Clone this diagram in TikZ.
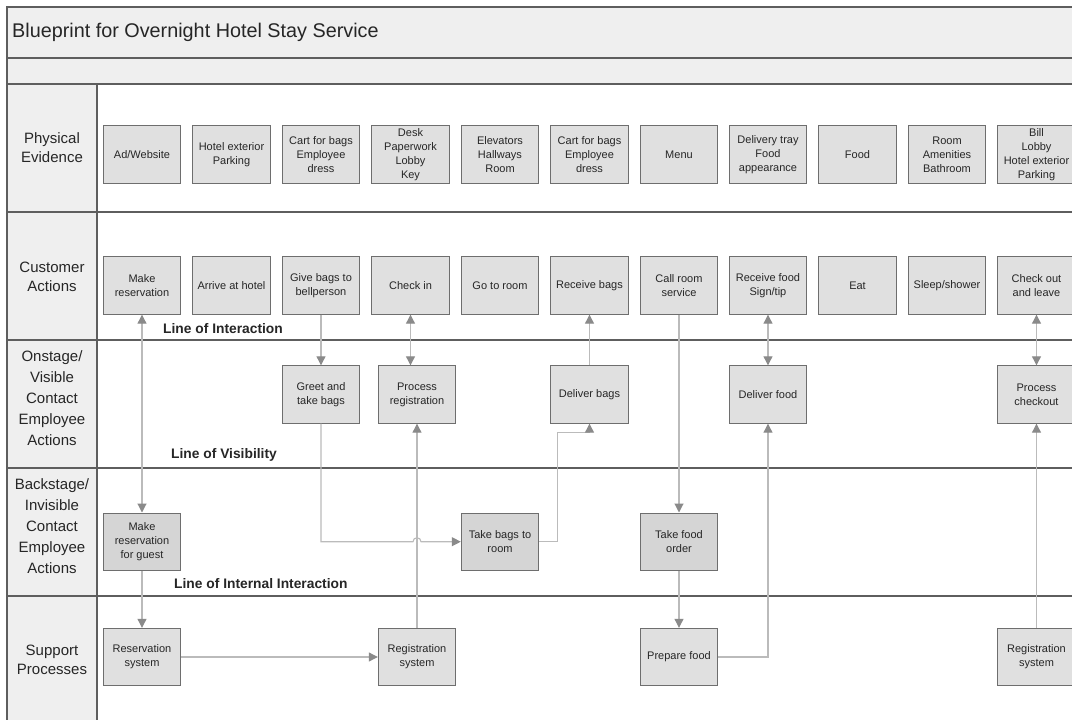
\documentclass[tikz,border=0pt]{standalone}
\usepackage{fontspec}
\setmainfont{Liberation Sans}
\usetikzlibrary{arrows.meta}
\definecolor{framegray}{HTML}{5E5E5E}
\definecolor{bandgray}{HTML}{EFEFEF}
\definecolor{boxfill}{HTML}{E0E0E0}
\definecolor{boxdark}{HTML}{D5D5D5}
\definecolor{boxedge}{HTML}{6E6E6E}
\definecolor{flowgray}{HTML}{BBBBBB}
\definecolor{tipgray}{HTML}{8A8A8A}
\definecolor{inkgray}{HTML}{262626}
\begin{document}
\begin{tikzpicture}[x=1pt,y=-1pt,
  stepbox/.style={draw=boxedge, fill=boxfill, line width=0.9pt, minimum width=77.5pt,
    minimum height=57.5pt, inner sep=1pt, align=center,
    font=\fontsize{11}{14}\selectfont, text=inkgray},
  backbox/.style={stepbox, fill=boxdark},
  lanelabel/.style={align=center, inner sep=0pt, font=\fontsize{15}{19}\selectfont, text=inkgray},
  lanelabelfive/.style={lanelabel, font=\fontsize{15}{21}\selectfont},
  linelabel/.style={anchor=west, inner sep=0pt, font=\bfseries\fontsize{13.8}{16}\selectfont, text=inkgray},
  flow/.style={draw=flowgray, line width=1.1pt, -{Triangle[length=9pt,width=9pt,color=tipgray]}},
  flowboth/.style={draw=flowgray, line width=1.1pt,
    {Triangle[length=9pt,width=9pt,color=tipgray]}-{Triangle[length=9pt,width=9pt,color=tipgray]}},
  frame/.style={draw=framegray, line width=1.2pt}]

\useasboundingbox (0,0) rectangle (1072,720);
\begin{scope}
\clip (0,0) rectangle (1072,720);

% bands and header column
\fill[white] (0,0) rectangle (1072,720);
\fill[bandgray] (7,7) rectangle (1090,84);
\fill[bandgray] (7,84) rectangle (97,740);

% frame and lane separators
\draw[frame] (1090,7) -- (7,7) -- (7,740);
\draw[frame] (7,58) -- (1090,58);
\draw[frame] (7,84) -- (1090,84);
\draw[frame] (7,212) -- (1090,212);
\draw[frame] (7,340) -- (1090,340);
\draw[frame] (7,468) -- (1090,468);
\draw[frame] (7,596) -- (1090,596);
\draw[frame] (97,84) -- (97,740);

% title and lane names
\node[anchor=west, inner sep=0pt, font=\fontsize{19.8}{23}\selectfont, text=inkgray] (title) at (12,32)
  {Blueprint for Overnight Hotel Stay Service};
\node[lanelabel] (lanepe) at (52,148) {Physical\\Evidence};
\node[lanelabel] (laneca) at (52,277) {Customer\\Actions};
\node[lanelabelfive] (laneon) at (52,398) {Onstage/\\Visible\\Contact\\Employee\\Actions};
\node[lanelabelfive] (lanebs) at (52,526) {Backstage/\\Invisible\\Contact\\Employee\\Actions};
\node[lanelabel] (lanesp) at (52,660) {Support\\Processes};

% lines between lanes
\node[linelabel] (loi) at (163,329) {Line of Interaction};
\node[linelabel] (lov) at (171,455) {Line of Visibility};
\node[linelabel] (lii) at (174,584) {Line of Internal Interaction};

% physical evidence
\node[stepbox] (pe0) at (142,154.5) {Ad/Website};
\node[stepbox] (pe1) at (231.5,154.5) {Hotel exterior\\Parking};
\node[stepbox] (pe2) at (321,154.5) {Cart for bags\\Employee\\dress};
\node[stepbox] (pe3) at (410.5,154.5) {Desk\\Paperwork\\Lobby\\Key};
\node[stepbox] (pe4) at (500,154.5) {Elevators\\Hallways\\Room};
\node[stepbox] (pe5) at (589.5,154.5) {Cart for bags\\Employee\\dress};
\node[stepbox] (pe6) at (679,154.5) {Menu};
\node[stepbox] (pe7) at (768,154.5) {Delivery tray\\Food\\appearance};
\node[stepbox] (pe8) at (857.5,154.5) {Food};
\node[stepbox] (pe9) at (947,154.5) {Room\\Amenities\\Bathroom};
\node[stepbox] (pe10) at (1036.5,154.5) {Bill\\Lobby\\Hotel exterior\\Parking};

% customer actions
\node[stepbox] (ca0) at (142,285.5) {Make\\reservation};
\node[stepbox] (ca1) at (231.5,285.5) {Arrive at hotel};
\node[stepbox] (ca2) at (321,285.5) {Give bags to\\bellperson};
\node[stepbox] (ca3) at (410.5,285.5) {Check in};
\node[stepbox] (ca4) at (500,285.5) {Go to room};
\node[stepbox] (ca5) at (589.5,285.5) {Receive bags};
\node[stepbox] (ca6) at (679,285.5) {Call room\\service};
\node[stepbox] (ca7) at (768,285.5) {Receive food\\Sign/tip};
\node[stepbox] (ca8) at (857.5,285.5) {Eat};
\node[stepbox] (ca9) at (947,285.5) {Sleep/shower};
\node[stepbox] (ca10) at (1036.5,285.5) {Check out\\and leave};

% onstage actions
\node[stepbox] (on2) at (321,394.5) {Greet and\\take bags};
\node[stepbox] (on3) at (417,394.5) {Process\\registration};
\node[stepbox] (on5) at (589.5,394.5) {Deliver bags};
\node[stepbox] (on7) at (768,394.5) {Deliver food};
\node[stepbox] (on10) at (1036.5,394.5) {Process\\checkout};

% backstage actions
\node[backbox] (bs0) at (142,541.7) {Make\\reservation\\for guest};
\node[backbox] (bs4) at (500,541.7) {Take bags to\\room};
\node[backbox] (bs6) at (679,541.7) {Take food\\order};

% support processes
\node[stepbox] (sp0) at (142,657) {Reservation\\system};
\node[stepbox] (sp3) at (417,657) {Registration\\system};
\node[stepbox] (sp6) at (679,657) {Prepare food};
\node[stepbox] (sp10) at (1036.5,657) {Registration\\system};

% flows
\coordinate (jmp) at (413,541.7);
\coordinate (bend) at (557.3,432.7);
\draw[flowboth] (ca0.south) -- (bs0.north);
\draw[flow] (bs0) -- (sp0);
\draw[flow] (sp0) -- (sp3);
\draw[flow] (sp3) -- (on3);
\draw[flow] (ca2) -- (on2);
\draw[flowboth] (ca3.south) -- (ca3.south |- on3.north);
\draw[flow] (on2.south) |- (jmp) arc[start angle=180, end angle=0, radius=4pt] -- (bs4.west);
\draw[flow] (bs4.east) -| (bend) -| (on5.south);
\draw[flow] (on5) -- (ca5);
\draw[flow] (ca6) -- (bs6);
\draw[flow] (bs6) -- (sp6);
\draw[flow] (sp6.east) -| (on7.south);
\draw[flowboth] (ca7) -- (on7);
\draw[flowboth] (ca10) -- (on10);
\draw[flow] (sp10) -- (on10);
\end{scope}
\end{tikzpicture}
\end{document}
